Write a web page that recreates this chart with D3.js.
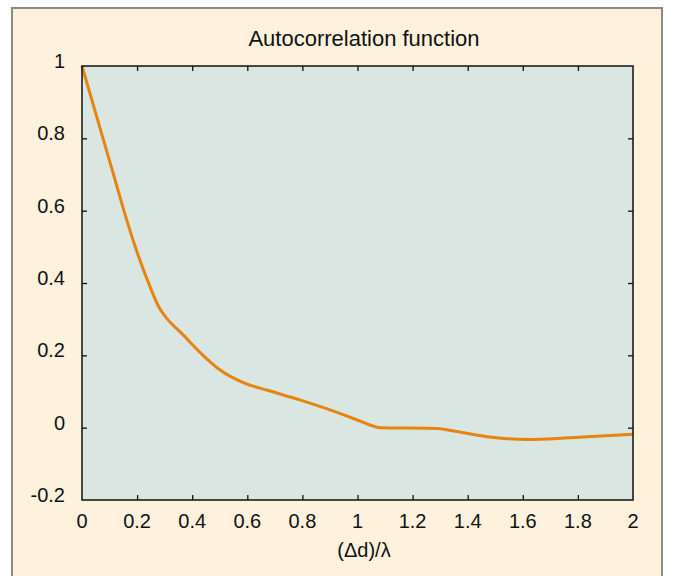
<!DOCTYPE html>
<html>
<head>
<meta charset="utf-8">
<script src="https://cdn.jsdelivr.net/npm/d3@7"></script>
<style>
    body { margin: 0; background: #fff; }
    svg { display: block; font-family: "Liberation Sans", Arial, sans-serif; }
</style>
</head>
<body>
<svg width="673" height="576"></svg>
<script>
const DX = [0, 0.04, 0.08, 0.12, 0.16, 0.2, 0.24, 0.28, 0.31, 0.36, 0.43, 0.5, 0.59, 0.67, 0.79, 0.89, 0.99, 1.05, 1.08, 1.29, 1.34, 1.47, 1.62, 1.77, 2.0];
const ACF = [1.0, 0.895, 0.79, 0.685, 0.58, 0.485, 0.403, 0.332, 0.3, 0.262, 0.207, 0.16, 0.123, 0.104, 0.077, 0.052, 0.024, 0.006, 0, -0.002, -0.008, -0.025, -0.033, -0.028, -0.018];
const X_TICKS = [0, 0.2, 0.4, 0.6, 0.8, 1, 1.2, 1.4, 1.6, 1.8, 2];
const Y_TICKS = [-0.2, 0, 0.2, 0.4, 0.6, 0.8, 1];

const svg = d3.select('svg');
const pLeft = 82, pRight = 633, pTop = 66, pBottom = 500;

const x = d3.scaleLinear().domain([0, 2]).range([pLeft, pRight]);
const y = d3.scaleLinear().domain([-0.2, 1]).range([pBottom, pTop]);

// outer frame
svg.append('rect')
    .attr('x', 12).attr('y', 8)
    .attr('width', 650).attr('height', 580)
    .attr('fill', '#fef2dd')
    .attr('stroke', '#8a8a8a')
    .attr('stroke-width', 2);

// plot area
svg.append('rect')
    .attr('x', pLeft).attr('y', pTop)
    .attr('width', pRight - pLeft).attr('height', pBottom - pTop)
    .attr('fill', '#d9e6e1');

// inward ticks on all four sides
const inner = (axis, scale, vals) => axis(scale).tickValues(vals.slice(1, -1)).tickSize(5).tickFormat('');
svg.append('g').attr('transform', `translate(0,${pBottom})`).call(inner(d3.axisTop, x, X_TICKS));
svg.append('g').attr('transform', `translate(0,${pTop})`).call(inner(d3.axisBottom, x, X_TICKS));
svg.append('g').attr('transform', `translate(${pLeft},0)`).call(inner(d3.axisRight, y, Y_TICKS));
svg.append('g').attr('transform', `translate(${pRight},0)`).call(inner(d3.axisLeft, y, Y_TICKS));
svg.selectAll('.domain').remove();
svg.selectAll('.tick line').attr('stroke', '#111').attr('stroke-width', 1.3);

const line = d3.line()
    .x((d, i) => x(DX[i]))
    .y(d => y(d))
    .curve(d3.curveMonotoneX);

svg.append('path')
    .datum(ACF)
    .attr('d', line)
    .attr('fill', 'none')
    .attr('stroke', '#e8830f')
    .attr('stroke-width', 3)
    .attr('stroke-linejoin', 'round');

// frame of the plot
svg.append('rect')
    .attr('x', pLeft).attr('y', pTop)
    .attr('width', pRight - pLeft).attr('height', pBottom - pTop)
    .attr('fill', 'none')
    .attr('stroke', '#111')
    .attr('stroke-width', 1.5);

// tick labels
svg.append('g')
    .selectAll('text')
    .data(X_TICKS)
    .enter()
    .append('text')
    .attr('x', d => x(d))
    .attr('y', 528)
    .attr('text-anchor', 'middle')
    .style('font-size', '20px')
    .attr('fill', '#111')
    .text(d => d);

svg.append('g')
    .selectAll('text')
    .data(Y_TICKS)
    .enter()
    .append('text')
    .attr('x', 65)
    .attr('y', d => y(d) + 2)
    .attr('text-anchor', 'end')
    .style('font-size', '20px')
    .attr('fill', '#111')
    .text(d => d);

svg.append('text')
    .text('Autocorrelation function')
    .attr('x', 364)
    .attr('y', 46)
    .attr('text-anchor', 'middle')
    .style('font-size', '22px')
    .attr('fill', '#111');

svg.append('text')
    .text('(Δd)/λ')
    .attr('x', 364)
    .attr('y', 557)
    .attr('text-anchor', 'middle')
    .style('font-size', '20px')
    .attr('fill', '#111');
</script>
</body>
</html>
